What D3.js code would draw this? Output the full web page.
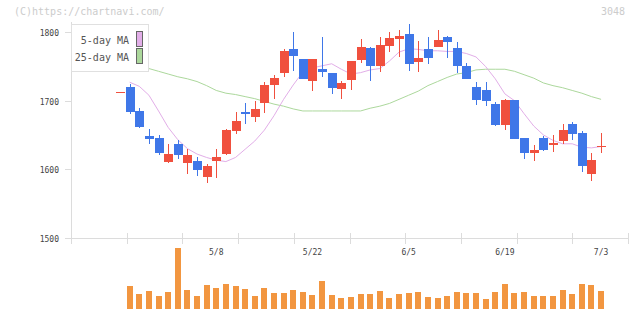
<!DOCTYPE html>
<html>
<head>
<meta charset="utf-8">
<script src="https://cdn.jsdelivr.net/npm/d3@7"></script>
<style>
  body { margin: 0; background: #fff; }
  .tickLabel { font-family: 'DejaVu Sans Mono', monospace; font-size: 8px; fill: #444; }
  .legendText { font-family: 'DejaVu Sans Mono', monospace; font-size: 10px; fill: #555; }
  .mark { font-family: 'DejaVu Sans Mono', monospace; font-size: 10px; fill: #cccccc; }
</style>
</head>
<body>
<div id="chart"></div>
<script>

// trading days, 4/19 .. 7/3
var dates = ['4/19','4/20','4/21','4/24','4/25','4/26','4/27','4/28','5/1','5/2',
             '5/8','5/9','5/10','5/11','5/12','5/15','5/16','5/17','5/18','5/19',
             '5/22','5/23','5/24','5/25','5/26','5/29','5/30','5/31','6/1','6/2',
             '6/5','6/6','6/7','6/8','6/9','6/12','6/13','6/14','6/15','6/16',
             '6/19','6/20','6/21','6/22','6/23','6/26','6/27','6/28','6/29','6/30',
             '7/3'];

var labelDates = ['5/8', '5/22', '6/5', '6/19', '7/3'];

var open  = [1712,1720,1685,1649,1645,1611,1637,1609,1612,1589,
             1612,1622,1656,1683,1676,1697,1723,1740,1776,1761,
             1729,1746,1740,1717,1730,1760,1777,1751,1780,1790,
             1797,1757,1776,1778,1793,1777,1751,1720,1716,1695,
             1664,1701,1645,1623,1645,1635,1641,1666,1653,1593,
             1633];

var high  = [1712,1724,1689,1659,1650,1637,1642,1629,1617,1608,
             1629,1659,1683,1697,1700,1727,1738,1776,1800,1761,
             1761,1793,1740,1729,1758,1790,1778,1793,1800,1803,
             1812,1787,1793,1803,1795,1786,1755,1727,1727,1698,
             1702,1701,1645,1635,1648,1650,1666,1669,1656,1623,
             1653];

var low   = [1712,1680,1660,1637,1621,1609,1615,1593,1590,1580,
             1587,1620,1652,1666,1669,1682,1702,1735,1743,1732,
             1714,1735,1710,1702,1716,1755,1729,1742,1771,1764,
             1743,1742,1754,1778,1762,1740,1732,1694,1692,1663,
             1657,1644,1615,1612,1626,1625,1637,1642,1596,1582,
             1623];

var close = [1712,1684,1662,1644,1624,1622,1620,1621,1598,1604,
             1618,1657,1670,1680,1688,1723,1733,1773,1765,1732,
             1761,1742,1719,1726,1758,1778,1751,1781,1792,1795,
             1754,1762,1762,1789,1786,1751,1732,1701,1700,1664,
             1701,1644,1623,1628,1628,1638,1657,1651,1604,1613,
             1634];

// volume, thousand shares (first day not shown)
var volume = [null,920,600,720,520,680,2440,760,520,960,
              840,1000,920,800,520,840,640,640,760,680,
              560,1120,560,440,480,600,600,720,440,600,
              640,680,480,440,520,680,640,640,400,680,
              1000,640,680,520,520,520,760,600,1000,960,
              720];

var ma5  = [null,1727,1721,1708,1685,1661,1643,1630,1622,1617,
            1613,1611,1617,1629,1641,1657,1678,1702,1723,1742,
            1748,1751,1754,1746,1739,1741,1745,1747,1758,1771,
            1776,1775,1773,1773,1772,1772,1769,1764,1750,1732,
            1710,1700,1681,1663,1650,1642,1637,1637,1632,1631,
            1633];

var ma25 = [null,1755,1752,1747,1743,1739,1735,1732,1728,1722,
            1715,1711,1709,1706,1703,1699,1695,1692,1688,1685,
            1685,1685,1685,1685,1685,1685,1689,1692,1696,1702,
            1708,1714,1722,1728,1734,1739,1741,1745,1746,1746,
            1746,1743,1738,1733,1726,1722,1719,1715,1711,1706,
            1702];

var priceTicks = [1500, 1600, 1700, 1800];

var colorUp   = '#f0503e';
var colorDown = '#3f77e8';
var colorVol  = '#f29640';
var colorMA5  = '#e2aee8';
var colorMA25 = '#acd89c';


var width  = 640;
var height = 311;

var svg = d3.select ('#chart')
            .append ('svg')
            .attr ('width', width)
            .attr ('height', height);

// index scale; the axis runs a few slots left of the first candle
var xScale = d3.scaleLinear ()
               .domain ([-5.1, 52.8])
               .range ([71, 628]);

var yScale = d3.scaleLinear ()
               .domain ([1500, 1800])
               .range ([237.5, 32.3]);

var vScale = d3.scaleLinear ()
               .domain ([0, d3.max (volume)])
               .range ([309, 248]);

var data = dates.map (function (d, i) {
    return { i: i, date: d, o: open[i], h: high[i], l: low[i], c: close[i],
             v: volume[i], m5: ma5[i], m25: ma25[i] };
});

// watermark
svg.append ('text')
   .attr ('class', 'mark')
   .attr ('x', 14)
   .attr ('y', 15)
   .text ('(C)https://chartnavi.com/');

svg.append ('text')
   .attr ('class', 'mark')
   .attr ('x', 625)
   .attr ('y', 15)
   .style ('text-anchor', 'end')
   .text ('3048');

// axes
var axisColor = '#dcdcdc';

svg.append ('line')
   .attr ('x1', xScale.range ()[0] + 0.5)
   .attr ('x2', xScale.range ()[0] + 0.5)
   .attr ('y1', 22)
   .attr ('y2', yScale (1500))
   .attr ('stroke', axisColor);

svg.append ('line')
   .attr ('x1', xScale.range ()[0])
   .attr ('x2', xScale.range ()[1])
   .attr ('y1', Math.round (yScale (1500)) + 0.5)
   .attr ('y2', Math.round (yScale (1500)) + 0.5)
   .attr ('stroke', axisColor);

var yTick = svg.append ('g')
               .selectAll ('g')
               .data (priceTicks)
               .enter ()
               .append ('g')
               .attr ('transform', function (d) { return 'translate(0,' + (Math.round (yScale (d)) + 0.5) + ')'; });

yTick.append ('line')
     .attr ('x1', 65)
     .attr ('x2', 71)
     .attr ('stroke', axisColor);

yTick.append ('text')
     .attr ('class', 'tickLabel')
     .attr ('x', 59)
     .attr ('y', 3)
     .style ('text-anchor', 'end')
     .text (function (d) { return d; });

// plain grid ticks, ten equal steps along the x axis
var xDom = xScale.domain ();
var xTicks = d3.range (11).map (function (k) { return xDom[0] + k * (xDom[1] - xDom[0]) / 10; });

svg.append ('g')
   .selectAll ('line')
   .data (xTicks)
   .enter ()
   .append ('line')
   .attr ('x1', function (d) { return Math.round (xScale (d)) + 0.5; })
   .attr ('x2', function (d) { return Math.round (xScale (d)) + 0.5; })
   .attr ('y1', 233)
   .attr ('y2', 244)
   .attr ('stroke', axisColor);

svg.append ('g')
   .selectAll ('text')
   .data (data.filter (function (d) { return labelDates.indexOf (d.date) >= 0; }))
   .enter ()
   .append ('text')
   .attr ('class', 'tickLabel')
   .attr ('x', function (d) { return xScale (d.i); })
   .attr ('y', 255)
   .style ('text-anchor', 'middle')
   .text (function (d) { return d.date; });

// moving averages (behind the candles)
var lineMA5 = d3.line ()
                .defined (function (d) { return d.m5 != null; })
                .x (function (d) { return xScale (d.i); })
                .y (function (d) { return yScale (d.m5); });

var lineMA25 = d3.line ()
                 .defined (function (d) { return d.m25 != null; })
                 .x (function (d) { return xScale (d.i); })
                 .y (function (d) { return yScale (d.m25); });

svg.append ('path')
   .datum (data)
   .attr ('d', lineMA25)
   .attr ('fill', 'none')
   .attr ('stroke', colorMA25)
   .attr ('stroke-width', 1);

svg.append ('path')
   .datum (data)
   .attr ('d', lineMA5)
   .attr ('fill', 'none')
   .attr ('stroke', colorMA5)
   .attr ('stroke-width', 1);

// candles
var bodyW = 9;

var candle = svg.append ('g')
                .selectAll ('g')
                .data (data)
                .enter ()
                .append ('g')
                .attr ('fill', function (d) { return d.c >= d.o ? colorUp : colorDown; });

candle.append ('rect')
      .attr ('x', function (d) { return Math.round (xScale (d.i)); })
      .attr ('width', 1)
      .attr ('y', function (d) { return Math.round (yScale (d.h)); })
      .attr ('height', function (d) { return Math.max (1, Math.round (yScale (d.l)) - Math.round (yScale (d.h))); });

candle.append ('rect')
      .attr ('x', function (d) { return Math.round (xScale (d.i)) - 4; })
      .attr ('width', bodyW)
      .attr ('y', function (d) { return Math.round (yScale (Math.max (d.o, d.c))); })
      .attr ('height', function (d) {
          return Math.max (1, Math.round (yScale (Math.min (d.o, d.c))) - Math.round (yScale (Math.max (d.o, d.c))));
      });

// volume
svg.append ('g')
   .selectAll ('rect')
   .data (data.filter (function (d) { return d.v != null; }))
   .enter ()
   .append ('rect')
   .attr ('x', function (d) { return Math.round (xScale (d.i)) - 3; })
   .attr ('width', 6)
   .attr ('y', function (d) { return Math.round (vScale (d.v)); })
   .attr ('height', function (d) { return vScale (0) - Math.round (vScale (d.v)); })
   .attr ('fill', colorVol);

// legend
var legend = svg.append ('g')
                .attr ('transform', 'translate(71,24)');

legend.append ('rect')
      .attr ('x', 0.5)
      .attr ('y', 0.5)
      .attr ('width', 77)
      .attr ('height', 47)
      .attr ('fill', '#fff')
      .attr ('stroke', '#e0e0e0');

var legendItems = [ { name: '5-day MA', color: colorMA5 }, { name: '25-day MA', color: colorMA25 } ];

legendItems.forEach (function (item, k) {
    legend.append ('text')
          .attr ('class', 'legendText')
          .attr ('x', 58)
          .attr ('y', 19.5 + k * 17)
          .style ('text-anchor', 'end')
          .text (item.name);

    legend.append ('rect')
          .attr ('x', 65.5)
          .attr ('y', 7.5 + k * 17)
          .attr ('width', 6)
          .attr ('height', 15)
          .attr ('fill', item.color)
          .attr ('stroke', '#666');
});

</script>
</body>
</html>
